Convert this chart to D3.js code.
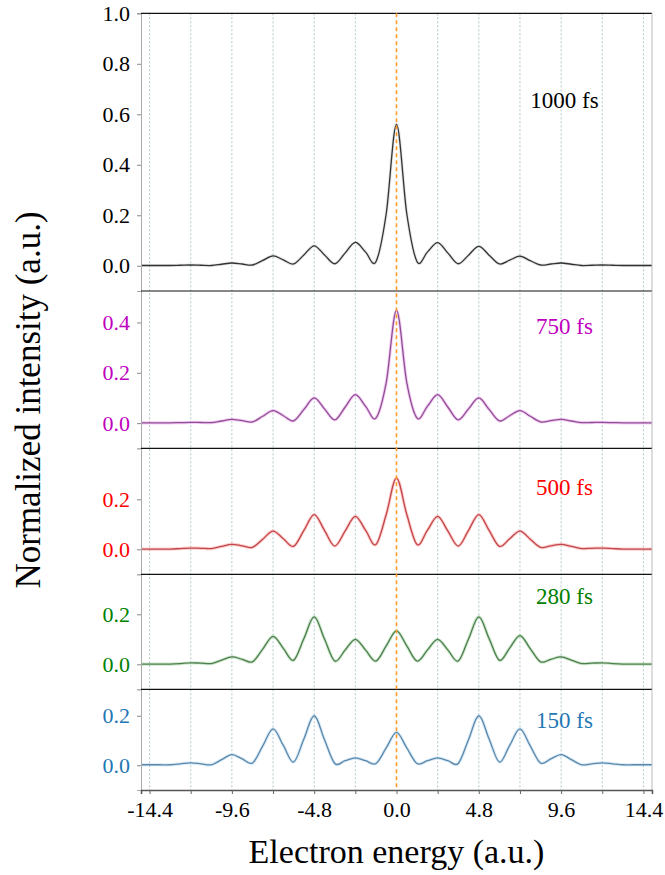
<!DOCTYPE html>
<html>
<head>
<meta charset="utf-8">
<script src="https://cdn.jsdelivr.net/npm/d3@7/dist/d3.min.js"></script>
<style>
  html, body { margin: 0; padding: 0; background: #fff; }
  svg text { font-family: "Liberation Serif", "DejaVu Serif", "Noto Serif", "Times New Roman", Tinos, serif; }
</style>
</head>
<body>
<svg id="chart" width="665" height="875"></svg>
<script>
const serif = "'Liberation Serif', 'DejaVu Serif', 'Noto Serif', 'Times New Roman', Tinos, serif";

// electron energy samples (a.u.)
const energies = [-14.9, -14.4, -13.8, -13.2, -12.6, -12.0, -11.4, -10.8, -10.2, -9.6, -9.0,
  -8.4, -7.8, -7.2, -6.6, -6.0, -5.4, -4.8, -4.2, -3.6, -3.0, -2.4, -1.8, -1.2, -0.6,
  0.0, 0.6, 1.2, 1.8, 2.4, 3.0, 3.6, 4.2, 4.8, 5.4, 6.0, 6.6, 7.2, 7.8, 8.4, 9.0,
  9.6, 10.2, 10.8, 11.4, 12.0, 12.6, 13.2, 13.8, 14.4, 14.9];

const fs1000 = [0.001, 0.001, 0.001, 0.001, 0.002, 0.003, 0.002, 0.001, 0.006, 0.011, 0.007,
  0.003, 0.021, 0.039, 0.023, 0.007, 0.043, 0.079, 0.043, 0.008, 0.050, 0.093, 0.054, 0.016, 0.206,
  0.56, 0.206, 0.016, 0.054, 0.092, 0.050, 0.008, 0.042, 0.077, 0.042, 0.007, 0.022, 0.038, 0.020,
  0.003, 0.007, 0.011, 0.006, 0.001, 0.002, 0.003, 0.002, 0.001, 0.001, 0.001, 0.001];

const fs750 = [0.001, 0.001, 0.001, 0.001, 0.002, 0.003, 0.0025, 0.002, 0.0085, 0.015, 0.010,
  0.005, 0.0275, 0.050, 0.0295, 0.009, 0.0545, 0.100, 0.0565, 0.013, 0.063, 0.113, 0.0665, 0.020, 0.161,
  0.448, 0.161, 0.020, 0.0665, 0.113, 0.063, 0.013, 0.0565, 0.100, 0.0545, 0.009, 0.0295, 0.050, 0.0275,
  0.005, 0.010, 0.015, 0.0085, 0.002, 0.0025, 0.003, 0.002, 0.001, 0.001, 0.001, 0.001];

const fs500 = [0.001, 0.001, 0.001, 0.001, 0.003, 0.005, 0.004, 0.003, 0.0115, 0.020, 0.014,
  0.008, 0.0405, 0.073, 0.0425, 0.012, 0.0755, 0.139, 0.076, 0.013, 0.0725, 0.132, 0.0755, 0.019, 0.139,
  0.285, 0.139, 0.019, 0.0755, 0.132, 0.0725, 0.013, 0.076, 0.139, 0.0755, 0.012, 0.0425, 0.073, 0.0405,
  0.008, 0.014, 0.020, 0.0115, 0.003, 0.004, 0.005, 0.003, 0.001, 0.001, 0.001, 0.001];

const fs280 = [0.001, 0.001, 0.001, 0.001, 0.003, 0.006, 0.0045, 0.003, 0.0165, 0.030, 0.020,
  0.010, 0.061, 0.112, 0.064, 0.016, 0.103, 0.190, 0.1015, 0.013, 0.0565, 0.100, 0.0565, 0.013, 0.0735,
  0.134, 0.0735, 0.013, 0.0565, 0.100, 0.0565, 0.013, 0.1015, 0.190, 0.103, 0.016, 0.065, 0.115, 0.0625,
  0.010, 0.020, 0.030, 0.0165, 0.003, 0.0045, 0.006, 0.003, 0.001, 0.001, 0.001, 0.001];

const fs150 = [0.002, 0.002, 0.002, 0.002, 0.006, 0.010, 0.006, 0.002, 0.0225, 0.043, 0.026,
  0.009, 0.078, 0.147, 0.080, 0.013, 0.1065, 0.200, 0.1035, 0.007, 0.0185, 0.030, 0.0185, 0.007, 0.070,
  0.133, 0.070, 0.007, 0.0185, 0.030, 0.0185, 0.007, 0.1035, 0.200, 0.1065, 0.013, 0.080, 0.147, 0.078,
  0.009, 0.026, 0.043, 0.0225, 0.002, 0.006, 0.010, 0.006, 0.002, 0.002, 0.002, 0.002];

const panelLabels = ["1000 fs", "750 fs", "500 fs", "280 fs", "150 fs"];
const panelSeries = [fs1000, fs750, fs500, fs280, fs150];
const yTickValues = [[0, 0.2, 0.4, 0.6, 0.8, 1.0], [0, 0.2, 0.4], [0, 0.2], [0, 0.2], [0, 0.2]];
const yMax = [1.0, 0.525, 0.404, 0.36, 0.307];
const gridLines = [-14.4, -12.0, -9.6, -7.2, -4.8, -2.4, 2.4, 4.8, 7.2, 9.6, 12.0, 14.4];
const xTickValues = [-14.4, -12.0, -9.6, -7.2, -4.8, -2.4, 0, 2.4, 4.8, 7.2, 9.6, 12.0, 14.4];
const xLabelValues = [-14.4, -9.6, -4.8, 0, 4.8, 9.6, 14.4];

// styling per panel
const labelColors = ["#000000", "#bf00bf", "#ff0000", "#008000", "#1f77b4"];
const lineColors = ["#333333", "#8e4f94", "#c0474a", "#4f7d4f", "#5c88aa"];
const glowColors = ["#888888", "#e070e0", "#ff7070", "#70c070", "#8fc4ea"];
const panelTops = [13.3, 291, 448.3, 574.3, 689.3];
const plotBottom = 790;
const labelPos = [{ y: 0.655 }, { y: 0.387 }, { y: 0.25 }, { y: 0.273 }, { y: 0.184 }];

const svg = d3.select("#chart");
const left = 141, right = 652;

const x = d3.scaleLinear().domain([-14.9, 14.9]).range([left, right]);

// vertical grid lines across the whole stack
svg.append("g").selectAll("line")
  .data(gridLines)
  .enter().append("line")
  .attr("x1", d => x(d)).attr("x2", d => x(d))
  .attr("y1", panelTops[0]).attr("y2", plotBottom)
  .attr("stroke", "#9fbcc0")
  .attr("stroke-width", 1)
  .attr("stroke-dasharray", "2,2")
  .attr("opacity", 0.8);

panelSeries.forEach((series, i) => {
  const top = panelTops[i];
  const bottom = i < 4 ? panelTops[i + 1] : plotBottom;
  const y = d3.scaleLinear().domain([-0.1, yMax[i]]).range([bottom, top]);
  const g = svg.append("g").attr("class", "panel");

  const pts = energies.map((e, j) => [e, series[j]]);
  const line = d3.line()
    .x(d => x(d[0]))
    .y(d => y(d[1]))
    .curve(d3.curveCardinal.tension(0));

  g.append("path")
    .datum(pts)
    .attr("d", line)
    .attr("fill", "none")
    .attr("stroke", glowColors[i])
    .attr("stroke-width", 3.2)
    .attr("opacity", i === 0 ? 0.2 : 0.35);

  g.append("path")
    .datum(pts)
    .attr("d", line)
    .attr("fill", "none")
    .attr("stroke", lineColors[i])
    .attr("stroke-width", 1.3);

  // y axis
  const yAxis = g.append("g")
    .attr("transform", `translate(${left},0)`)
    .call(d3.axisLeft(y).tickValues(yTickValues[i]).tickSize(4).tickPadding(7).tickFormat(d3.format(".1f")));
  yAxis.attr("font-family", null);
  yAxis.select(".domain").attr("stroke", "#aaaaaa");
  yAxis.selectAll(".tick line").attr("stroke", "#888888");
  yAxis.selectAll(".tick text")
    .attr("fill", labelColors[i])
    .style("font-size", "22px")
    .style("font-family", serif);

  // top separator
  g.append("line")
    .attr("x1", left).attr("x2", right)
    .attr("y1", top).attr("y2", top)
    .attr("stroke", "#111")
    .attr("stroke-width", 1.2);

  // right spine
  g.append("line")
    .attr("x1", right).attr("x2", right)
    .attr("y1", top).attr("y2", bottom)
    .attr("stroke", "#bbbbbb");

  g.append("text")
    .attr("x", x(9.8))
    .attr("y", y(labelPos[i].y))
    .attr("dy", "0.35em")
    .attr("text-anchor", "middle")
    .attr("fill", labelColors[i])
    .style("font-size", "23px")
    .style("font-family", serif)
    .text(panelLabels[i]);
});

// orange dashed line at zero
svg.append("line")
  .attr("x1", x(0)).attr("x2", x(0))
  .attr("y1", panelTops[0]).attr("y2", plotBottom)
  .attr("stroke", "#ff9a2e")
  .attr("stroke-width", 1.6)
  .attr("stroke-dasharray", "4,3");

// bottom x axis
const xAxis = svg.append("g")
  .attr("transform", `translate(0,${plotBottom})`)
  .call(d3.axisBottom(x).tickValues(xTickValues).tickSize(4).tickPadding(7)
    .tickFormat(d => xLabelValues.includes(d) ? d3.format(".1f")(d) : ""));
xAxis.attr("font-family", null);
xAxis.select(".domain").attr("stroke", "#555").attr("stroke-width", 1.5);
xAxis.selectAll(".tick line").attr("stroke", "#666");
xAxis.selectAll(".tick text")
  .attr("fill", "#000")
  .style("font-size", "22px")
  .style("font-family", serif)
  .text(d => xLabelValues.includes(d) ? d3.format(".1f")(d).replace("−", "-") : "");

svg.append("text")
  .attr("x", (left + right) / 2)
  .attr("y", 863)
  .attr("text-anchor", "middle")
  .style("font-size", "34px")
  .style("font-family", serif)
  .text("Electron energy (a.u.)");

svg.append("text")
  .attr("transform", `translate(40,400) rotate(-90)`)
  .attr("text-anchor", "middle")
  .style("font-size", "35px")
  .style("font-family", serif)
  .text("Normalized intensity (a.u.)");
</script>
</body>
</html>
